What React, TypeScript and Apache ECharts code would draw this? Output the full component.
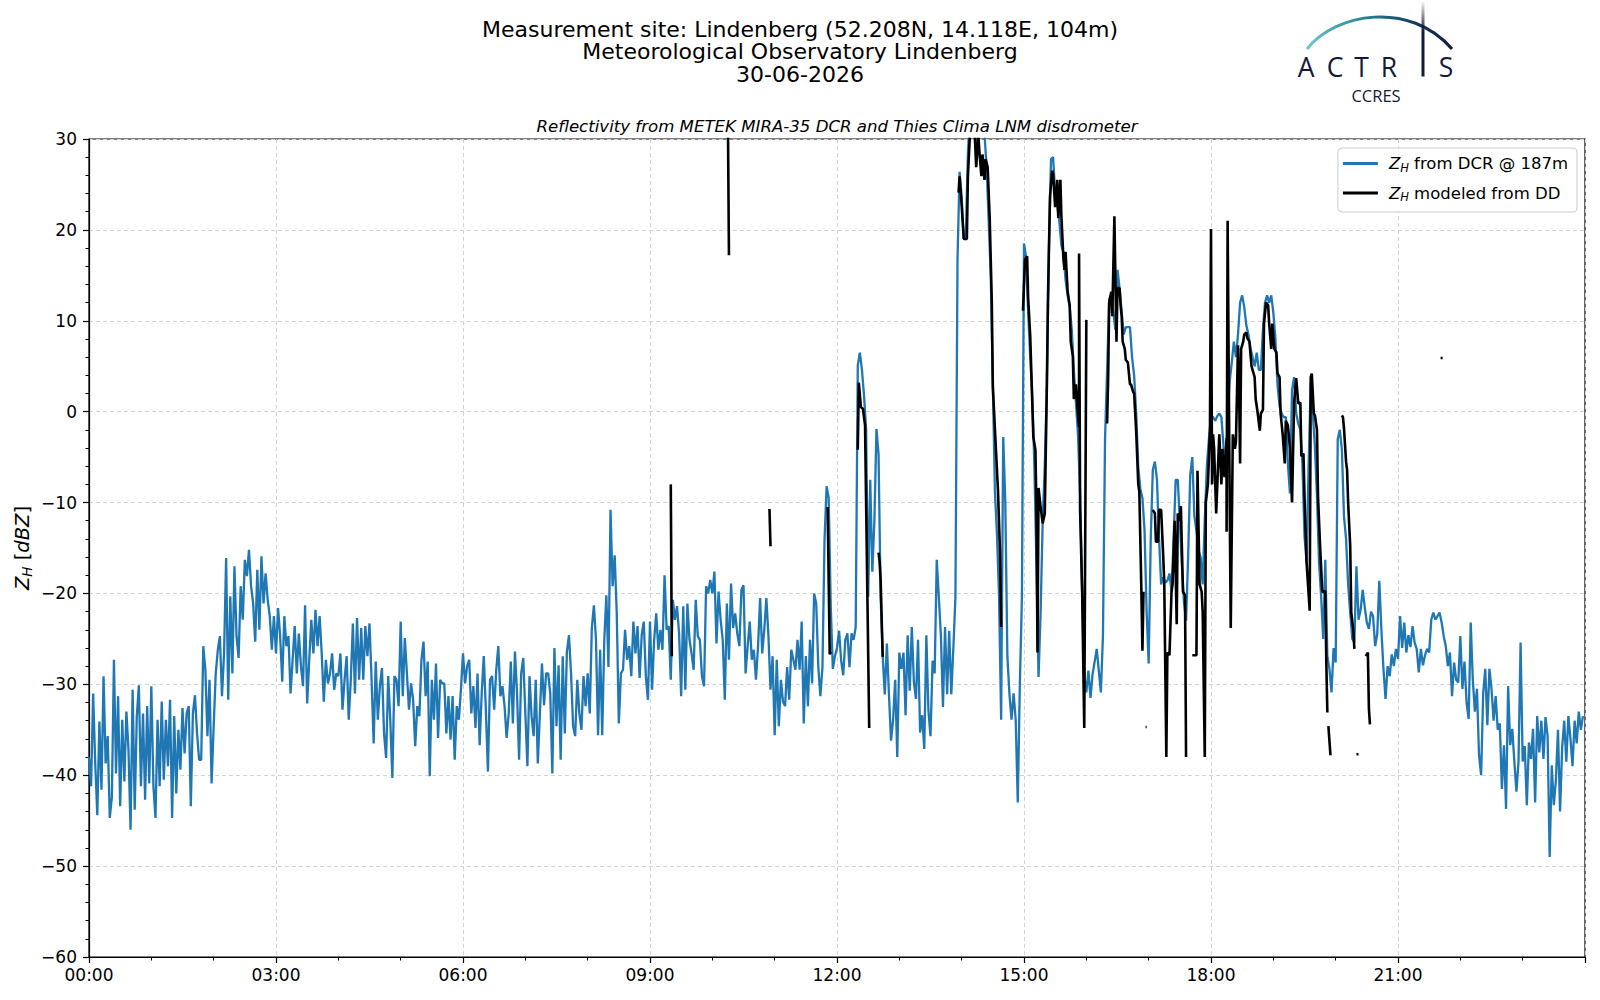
import React, { useEffect, useRef } from "react";
import * as echarts from "echarts";

const FONT = "DejaVu Sans, sans-serif";
const LOGO_FONT = "Open Sans, sans-serif";
const NAVY = "#141a3c";

// ---- Z_H from DCR @ 187m, 2-minute samples, one array per hour ----
const DCR_STEP_MIN = 2;
const DCR_H00 = [-38,-41.2,-31,-38.7,-44.4,-34.1,-41.6,-29.1,-38.7,-35.7,-44.7,-42.4,-27.3,-39.8,-31.3,-43.4,-33.9,-40.7,-33,-37.2,-46,-30.6,-43.8,-33.5,-30.1,-41.2,-33.2,-42.7,-32.4,-40.9];
const DCR_H01 = [-30.2,-41.2,-44.7,-33.9,-41.2,-31.9,-40.5,-33.9,-39,-31.7,-44.7,-33.5,-42,-35,-39.4,-32.6,-37.6,-33.2,-32.4,-43.4,-33.2,-31.2,-35.4,-38.3,-38.3,-25.8,-28.4,-35.7,-29.5,-40.9];
const DCR_H02 = [-34.6,-28.8,-26.2,-24.7,-31.3,-26.6,-16.1,-31.7,-20.3,-28.8,-17,-24.7,-27.1,-19.2,-22.9,-16.3,-18.1,-15.2,-19.2,-21.1,-25.3,-17.4,-24,-15.9,-21.1,-17.8,-20.7,-22.5,-26.2,-22.5];
const DCR_H03 = [-26.6,-21.6,-24.7,-29.7,-22.5,-25.8,-24.7,-31,-27.3,-23.6,-28.8,-24.4,-28,-30.2,-21.3,-32.1,-27.3,-22.9,-26.6,-21.8,-25.8,-22.5,-26.6,-31.9,-27.3,-29.9,-28.8,-26.6,-30.6,-28.8];
const DCR_H04 = [-29.1,-26.6,-32.8,-29.5,-26.9,-33.9,-29.5,-23.3,-31,-22.7,-29.5,-23.8,-29.5,-23.6,-26.9,-23.3,-29.5,-36.5,-27.5,-33.9,-30.2,-28.2,-35.4,-38.1,-29.1,-33.9,-40.3,-29.1,-29.5,-32.4];
const DCR_H05 = [-23.1,-31.3,-24.9,-28.8,-32.8,-29.9,-31.7,-36.8,-32.4,-33.5,-27.3,-25.3,-31.3,-27.5,-40.1,-29.5,-33.9,-27.7,-35.9,-29.5,-29.9,-29.9,-35.4,-31.3,-36.1,-31.3,-38.3,-32.4,-33.9,-30.6];
const DCR_H06 = [-26.6,-29.9,-28,-27.3,-33.2,-30.2,-34.8,-28.8,-36.7,-31,-26.9,-32.8,-39.6,-29.5,-29.1,-32.8,-28.4,-25.8,-31.3,-30.2,-32.4,-35.9,-33.2,-27.5,-34.3,-26.4,-31,-38.3,-28.8,-27.1];
const DCR_H07 = [-33.2,-39,-29.1,-33.5,-35.7,-29.5,-38.7,-33.2,-27.7,-32.3,-28.8,-28.8,-31,-39.8,-26,-34.6,-27.9,-38.3,-26.9,-35.4,-26.4,-24.6,-28.8,-34.6,-35.7,-29.5,-33.2,-35,-29.1,-32.4];
const DCR_H08 = [-28.8,-33.2,-23.8,-21.3,-25.1,-35.6,-26.2,-35.6,-25.1,-20.2,-28.1,-10.8,-19.2,-15.8,-22.2,-34.3,-28.8,-28.4,-24,-27.3,-25.8,-29.1,-23.1,-26.6,-23.6,-29.3,-24.6,-23.1,-29.1,-31.7];
const DCR_H09 = [-23.1,-30.6,-25.1,-22.2,-26.2,-24,-26.2,-18,-24,-23.6,-29.5,-20.7,-22.9,-21.4,-24.4,-31.3,-21.4,-30.6,-21.1,-25.1,-26.6,-28.4,-20.7,-24.7,-25.1,-29.1,-30.2,-19.2,-20,-18.5];
const DCR_H10 = [-20,-17.6,-25.5,-19.8,-22.9,-25.1,-31.7,-21.1,-27.3,-18.9,-23.8,-22.2,-24.4,-25.8,-19.6,-19.1,-28.8,-25.8,-23.1,-27.3,-26.2,-29.5,-25.8,-20.5,-26.6,-24,-20.5,-24.7,-30.6,-26.9];
const DCR_H11 = [-35.6,-27.3,-34.6,-29.5,-31.9,-32.4,-28.1,-31.7,-26.2,-27.3,-28.4,-25.1,-28.4,-23.1,-34.3,-26.9,-32.4,-25.1,-29.9,-20,-21.1,-28.1,-31.3,-28.1,-14.1,-8.2,-9.5,-21.5,-28.3,-26.9];
const DCR_H12 = [-26,-24.1,-27.4,-29,-25.1,-24.4,-28.1,-24.4,-25.1,-23.7,5.1,6.5,4.6,1.8,-1.9,-20.4,-7.5,-17.6,-12,-1.9,-4.7,-20.4,-26.9,-31.1,-25.5,-31.1,-36.2,-33.9,-29.5,-38];
const DCR_H13 = [-26.5,-28.3,-26.5,-33.4,-24.6,-30.7,-23.7,-29.7,-31.6,-25.1,-35.3,-33.4,-37.1,-24.6,-32.9,-35.7,-27.4,-28.8,-16.3,-20.4,-24.6,-32.5,-23.7,-31.1,-24.1,-31.1,-26,-20.4,16.7,26.4];
const DCR_H14 = [23.6,19,19.5,28.3,33,35,34,33,32,33,31,30.5,26.9,21,15,3,-8.8,-13.5,-20.4,-33.9,-2.8,-10,-26.9,-31.1,-33.9,-31,-33.9,-43,-30,-20.4];
const DCR_H15 = [18.5,17,11,6,1.5,-6,-17,-29.2,-22,-12,-6,2.8,18,27.8,28,24,22.5,21,18.3,17.5,14.5,12.8,11.5,9,4.5,1,-2.5,-9,-20,-29];
const DCR_H16 = [-30.9,-28.5,-31.5,-28.9,-27.5,-26.1,-28.5,-30.9,-24.6,-3,4.6,12.4,12.8,10.9,9,15.6,13.6,11,8.5,9.3,9.3,9.3,6,4,-0.2,-6.1,-8.5,-9.5,-13,-21.9];
const DCR_H17 = [-27.7,-14,-6.4,-5.5,-7.5,-14,-19,-18.2,-18.8,-18.6,-17.8,-19.8,-14,-7.5,-7.5,-12,-17,-21,-23,-15.9,-7,-5,-11.5,-13.1,-15.3,-16,-19,-12,-6,-3];
const DCR_H18 = [-0.5,-0.6,-1,-0.5,-0.2,-0.6,-3.7,-7,-1,3.4,5.4,7.7,6,8.5,12,12.8,11.5,9.5,8.5,7,6,5,6.5,4.6,4.6,9,12,12.8,12,12.8];
const DCR_H19 = [10.9,8,3,0.6,-0.2,-0.6,-0.6,-5.7,-9,2.4,3.8,-0.2,-1.3,-2,-5.7,-13.7,-16.6,-5.7,3.1,-0.2,-3.8,-9.3,-16.6,-20.3,-25,-16.3,-26.9,-28.3,-30.9,-26];
const DCR_H20 = [-27.6,-3,-2,-4.2,-11.5,-14,-19,-22.1,-25,-25.4,-17,-22.9,-21.8,-19.6,-21.5,-23.2,-23.9,-22,-22.5,-25.8,-24.5,-18.6,-24,-28.3,-31.6,-28,-29.1,-26.7,-28,-26.1];
const DCR_H21 = [-27.2,-22.5,-26,-23.2,-26.5,-24.6,-25.9,-23.6,-25.4,-26.1,-28.7,-26.1,-27.9,-26.8,-26.1,-26.5,-22.9,-22.1,-22.9,-22.5,-22.1,-23.2,-24.7,-25.8,-28,-26.5,-31.3,-27.6,-29.5,-29.8];
const DCR_H22 = [-24.7,-30.5,-27.5,-32,-33.8,-23.2,-29.5,-33,-30.5,-37.8,-40,-31,-28.3,-34.5,-28.3,-30.5,-34,-31.3,-35,-34.3,-41.5,-36.7,-43.7,-30.2,-36.7,-34.9,-38.5,-41.8,-38.5,-25.4];
const DCR_H23 = [-38.5,-36.8,-43.3,-36.4,-38.2,-34.9,-43,-33.5,-37.5,-34,-38.2,-33.6,-35.7,-49,-38.9,-43.3,-40.5,-35,-44,-37,-34,-38.5,-33.5,-36,-39,-34,-36.5,-33,-35,-33.5];

const DCR_HOURS = [DCR_H00, DCR_H01, DCR_H02, DCR_H03, DCR_H04, DCR_H05, DCR_H06, DCR_H07, DCR_H08, DCR_H09, DCR_H10, DCR_H11, DCR_H12, DCR_H13, DCR_H14, DCR_H15, DCR_H16, DCR_H17, DCR_H18, DCR_H19, DCR_H20, DCR_H21, DCR_H22, DCR_H23];

// ---- Z_H modeled from disdrometer: separate segments of [time, dBZ] ----
const DD_0920 = [["09:20", -8], ["09:21", -26.9]];
const DD_1015 = [["10:15", 32], ["10:16", 17.2]];
const DD_1055 = [["10:55", -10.7], ["10:56", -14.8]];
const DD_1151 = [["11:51", -10.5], ["11:53", -26.7], ["11:54", -26.4]];
const DD_1220 = [["12:20", -4.2], ["12:21", 3.2], ["12:23", 0.5], ["12:25", 0.3], ["12:27", -1.5], ["12:31", -34.8]];
const DD_1240 = [["12:40", -15.5], ["12:41", -16.5], ["12:42", -18.5], ["12:44", -27]];
const DD_1357 = [["13:57", 24.1], ["13:58", 25.9], ["14:00", 22.7], ["14:02", 19], ["14:05", 19], ["14:06", 25.9], ["14:08", 30.6], ["14:10", 32], ["14:12", 32], ["14:14", 26.9], ["14:16", 30.6], ["14:17", 28.7], ["14:19", 25.9], ["14:20", 28.3], ["14:22", 25.5], ["14:23", 27.8], ["14:25", 26.9], ["14:27", 21.3], ["14:29", 12], ["14:30", 2.8], ["14:33", -4.2], ["14:35", -8.8], ["14:37", -15.8], ["14:38", -23.7]];
const DD_1459 = [["14:59", 11.1], ["15:01", 16.7], ["15:03", 17.1], ["15:04", 12.5], ["15:06", 8.3], ["15:07", 4.6], ["15:09", -2.8], ["15:11", -4.2], ["15:12", -11.2], ["15:13", -26.5], ["15:14", -8.4], ["15:16", -10.5], ["15:18", -12.3], ["15:20", -11.2], ["15:22", 2.8], ["15:23", 12], ["15:25", 23.6], ["15:27", 26.5], ["15:28", 26.2], ["15:30", 22.5], ["15:32", 25.5], ["15:33", 21.3], ["15:35", 25.5], ["15:36", 21.5], ["15:38", 16.7], ["15:39", 15.6], ["15:40", 17.6], ["15:42", 13.2], ["15:44", 11.7], ["15:45", 7.7], ["15:47", 6.1], ["15:48", 1.4], ["15:50", 3], ["15:52", -0.5], ["15:53", -1.7], ["15:53", 17.4], ["15:54", -10.8], ["15:56", -19.9], ["15:58", -34.8], ["16:00", 10.1]];
const DD_1620 = [["16:20", -1.3], ["16:21", 3.8], ["16:22", 12], ["16:24", 13.2], ["16:25", 10.5], ["16:27", 21.5], ["16:29", 7.7], ["16:30", 13.6], ["16:32", 13.6], ["16:33", 11.7], ["16:34", 10.5], ["16:35", 7.7], ["16:37", 6.9], ["16:38", 5.7], ["16:40", 5.4], ["16:42", 3], ["16:43", 3], ["16:45", 2.2], ["16:46", 2], ["16:48", -2.2], ["16:50", -8], ["16:51", -8.8], ["16:53", -19.8], ["16:54", -26.3], ["16:55", -19.8]];
const DD_1657 = [["16:57", -34.7], ["16:58", -34.7]];
const DD_1704 = [["17:04", -10.8], ["17:06", -11.2], ["17:07", -14.3], ["17:09", -14.3], ["17:10", -10.8], ["17:12", -10.8], ["17:14", -15.9], ["17:15", -18.7], ["17:17", -38], ["17:18", -26.5], ["17:20", -26.8], ["17:22", -19.8], ["17:23", -19], ["17:25", -12], ["17:27", -23.4], ["17:28", -11.2], ["17:30", -12], ["17:31", -10.4], ["17:33", -19.8], ["17:35", -20.2], ["17:36", -38]];
const DD_1742 = [["17:42", -26.8], ["17:46", -26.8], ["17:47", -6.5], ["17:49", -19], ["17:51", -19.8], ["17:52", -22], ["17:54", -38], ["17:55", -10], ["17:57", -8], ["17:59", -2.1], ["18:00", 20.1], ["18:01", -8], ["18:02", -2.5], ["18:03", -4.1], ["18:05", -11.2], ["18:07", -5.3], ["18:08", -2.5], ["18:10", -8], ["18:11", -4.1], ["18:13", -7.2], ["18:15", -2.9], ["18:15", -13.2], ["18:16", 21], ["18:18", -10], ["18:19", -23.8], ["18:21", -2.5], ["18:23", -4.1], ["18:24", -3.3], ["18:26", 7.3], ["18:27", 2.6], ["18:28", -5.7], ["18:29", 6.9], ["18:31", 7.7], ["18:32", 8.5], ["18:34", 8.7], ["18:35", 8.1], ["18:37", 7.7], ["18:39", 5], ["18:40", 4.6], ["18:42", 3.8], ["18:43", 1.4], ["18:45", -0.2], ["18:47", -2.1], ["18:48", -0.2], ["18:50", 0.2], ["18:51", 9.7], ["18:53", 12], ["18:55", 11.7], ["18:56", 9.7], ["18:58", 6.9], ["18:59", 9.7], ["19:01", 6.9], ["19:03", 6.5], ["19:04", 4.2], ["19:06", 3.8], ["19:07", -0.2], ["19:09", -2.5], ["19:11", -5.7], ["19:12", -1], ["19:14", -1.5], ["19:16", -4], ["19:18", -10], ["19:20", 1], ["19:22", 3.7], ["19:24", 0.9], ["19:26", 1], ["19:27", -4.9], ["19:29", -4.6], ["19:30", -9.3], ["19:32", -16.6], ["19:35", -21.9], ["19:36", 3.8], ["19:37", 4.2], ["19:39", -0.2], ["19:40", -0.4], ["19:42", -2], ["19:43", -9.3], ["19:45", -14.8], ["19:47", -19.6], ["19:48", -19.9], ["19:50", -19.7], ["19:51", -27.6], ["19:52", -33.1]];
const DD_1953 = [["19:53", -34.6], ["19:55", -37.8]];
const DD_2006 = [["20:06", -0.4], ["20:07", -0.6], ["20:08", -1.8], ["20:10", -5.5], ["20:11", -6.4], ["20:12", -10], ["20:14", -14.8], ["20:15", -22.1], ["20:17", -24], ["20:18", -26.1]];
const DD_2020 = [["20:20", -37.7], ["20:22", -37.7]];
const DD_2029 = [["20:29", -26.9], ["20:31", -26.5], ["20:32", -32.7], ["20:33", -34.4]];
const DD_2141 = [["21:41", 5.9], ["21:43", 5.9]];

const DD_SEGMENTS = [DD_0920, DD_1015, DD_1055, DD_1151, DD_1220, DD_1240, DD_1357, DD_1459, DD_1620, DD_1657, DD_1704, DD_1742, DD_1953, DD_2006, DD_2020, DD_2029, DD_2141];

const SERIES_DCR = "dcr";
const SERIES_DD = "dd";
const LEGEND_TEXT: Record<string, string> = {
  dcr: "{i|Z}{s|H}{t| from DCR @ 187m}",
  dd: "{i|Z}{s|H}{t| modeled from DD}",
};

const TITLE_LINES = [
  "Measurement site: Lindenberg (52.208N, 14.118E, 104m)",
  "Meteorological Observatory Lindenberg",
  "30-06-2026",
];
const SUBTITLE = "Reflectivity from METEK MIRA-35 DCR and Thies Clima LNM disdrometer";

const Y_MIN = -60;
const Y_MAX = 30;
const Y_STEP = 10;
const X_MIN = 0;
const X_MAX = 24;
const X_STEP = 3;

function hm(s: string): number {
  const [h, m] = s.split(":").map(Number);
  return h + m / 60;
}

function buildDcr() {
  const out: any[] = [];
  DCR_HOURS.forEach((arr, h) => {
    arr.forEach((v, k) => out.push([h + (k * DCR_STEP_MIN) / 60, v]));
  });
  return out;
}

function buildDd() {
  const out: any[] = [];
  DD_SEGMENTS.forEach((seg: any[], i) => {
    if (i > 0) out.push([hm(seg[0][0]) - 0.002, "-"]);
    seg.forEach((p: any[]) => out.push([hm(p[0]), p[1]]));
  });
  return out;
}

const minus = (v: number) => (v < 0 ? "\u2212" + Math.abs(v) : String(v));

export default function App() {
  const ref = useRef<HTMLDivElement>(null);

  useEffect(() => {
    if (!ref.current) return;
    const chart = echarts.init(ref.current, undefined, { renderer: "svg" });

    const richLegend = {
      i: { fontFamily: FONT, fontSize: 16.5, fontStyle: "italic", color: "#000", lineHeight: 20, padding: [0, 0, 0, 6] },
      s: { fontFamily: FONT, fontSize: 11.5, fontStyle: "italic", color: "#000", lineHeight: 12, verticalAlign: "bottom" },
      t: { fontFamily: FONT, fontSize: 16.5, color: "#000", lineHeight: 20 },
    };

    const richYName = {
      i: { fontFamily: FONT, fontSize: 19.5, fontStyle: "italic", fill: "#000", lineHeight: 24 },
      s: { fontFamily: FONT, fontSize: 13.5, fontStyle: "italic", fill: "#000", lineHeight: 14, verticalAlign: "bottom" },
      t: { fontFamily: FONT, fontSize: 19.5, fill: "#000", lineHeight: 24 },
    };

    const arcGradient = new echarts.graphic.LinearGradient(0, 0, 1, 0, [
      { offset: 0, color: "#6cc9c4" },
      { offset: 0.4, color: "#238292" },
      { offset: 0.75, color: "#1a3a5e" },
      { offset: 1, color: NAVY },
    ]);
    const barGradient = new echarts.graphic.LinearGradient(0, 0, 0, 1, [
      { offset: 0, color: "rgba(20,26,60,0.05)" },
      { offset: 0.4, color: NAVY },
      { offset: 1, color: NAVY },
    ]);

    const letters = [
      { ch: "A", x: 1306 },
      { ch: "C", x: 1335 },
      { ch: "T", x: 1361.5 },
      { ch: "R", x: 1389 },
      { ch: "S", x: 1446 },
    ];

    const option: any = {
      animation: false,
      backgroundColor: "#ffffff",
      grid: {
        left: 89,
        right: 15,
        top: 139,
        bottom: 43,
        show: true,
        borderColor: "#000",
        borderWidth: 1.2,
        backgroundColor: "transparent",
      },
      xAxis: {
        type: "value",
        min: X_MIN,
        max: X_MAX,
        interval: X_STEP,
        axisLine: { show: true, onZero: false, lineStyle: { color: "#000", width: 1.2 } },
        axisTick: { show: true, length: 6, lineStyle: { color: "#000", width: 1.2 } },
        minorTick: { show: true, splitNumber: 3, length: 3.5, lineStyle: { color: "#000", width: 1 } },
        splitLine: { show: true, lineStyle: { color: "#d4d4d4", type: [4, 3], width: 1 } },
        axisLabel: {
          fontFamily: FONT,
          fontSize: 17,
          color: "#000",
          margin: 9,
          formatter: (v: number) => (v >= 24 ? "" : String(v).padStart(2, "0") + ":00"),
        },
      },
      yAxis: {
        type: "value",
        min: Y_MIN,
        max: Y_MAX,
        interval: Y_STEP,
        axisLine: { show: true, onZero: false, lineStyle: { color: "#000", width: 1.2 } },
        axisTick: { show: true, length: 6, lineStyle: { color: "#000", width: 1.2 } },
        minorTick: { show: true, splitNumber: 5, length: 3.5, lineStyle: { color: "#000", width: 1 } },
        splitLine: { show: true, lineStyle: { color: "#d4d4d4", type: [4, 3], width: 1 } },
        axisLabel: { fontFamily: FONT, fontSize: 17, color: "#000", margin: 12, formatter: minus },
      },
      legend: {
        data: [SERIES_DCR, SERIES_DD],
        orient: "vertical",
        right: 23,
        top: 148,
        itemWidth: 35,
        itemHeight: 3,
        icon: "rect",
        itemGap: 11,
        padding: [7, 9, 9, 5],
        borderColor: "#cccccc",
        borderWidth: 1,
        borderRadius: 4,
        backgroundColor: "rgba(255,255,255,0.85)",
        formatter: (name: string) => LEGEND_TEXT[name],
        textStyle: { fontFamily: FONT, fontSize: 16.5, color: "#000", rich: richLegend },
      },
      series: [
        {
          name: SERIES_DCR,
          type: "line",
          data: buildDcr(),
          showSymbol: false,
          symbol: "none",
          lineStyle: { color: "#1f77b4", width: 2.3 },
          itemStyle: { color: "#1f77b4" },
          z: 2,
        },
        {
          name: SERIES_DD,
          type: "line",
          data: buildDd(),
          showSymbol: false,
          symbol: "none",
          connectNulls: false,
          lineStyle: { color: "#000000", width: 2.6 },
          itemStyle: { color: "#000000" },
          z: 3,
        },
      ],
      graphic: [
        ...TITLE_LINES.map((t, i) => ({
          type: "text",
          x: 800,
          y: 29 + i * 22.8,
          style: { text: t, fontFamily: FONT, fontSize: 22, fill: "#000", align: "center", verticalAlign: "middle" },
        })),
        {
          type: "text",
          x: 837,
          y: 126,
          style: { text: SUBTITLE, fontFamily: FONT, fontSize: 16.6, fontStyle: "italic", fill: "#000", align: "center", verticalAlign: "middle" },
        },
        {
          type: "text",
          x: 22,
          y: 548,
          rotation: Math.PI / 2,
          style: {
            text: "{i|Z}{s|H}{t| [}{i|dBZ}{t|]}",
            rich: richYName,
            align: "center",
            verticalAlign: "middle",
          },
        },
        {
          type: "group",
          children: [
            {
              type: "bezierCurve",
              shape: { x1: 1307, y1: 49, cpx1: 1335, cpy1: 13, cpx2: 1410, cpy2: 0, x2: 1452, y2: 49 },
              style: { stroke: arcGradient, lineWidth: 3, fill: null },
            },
            {
              type: "rect",
              shape: { x: 1421.5, y: 2, width: 3, height: 74.5 },
              style: { fill: barGradient },
            },
            ...letters.map((l) => ({
              type: "text",
              x: l.x,
              y: 66.5,
              style: { text: l.ch, fontFamily: LOGO_FONT, fontSize: 26.5, lineHeight: 20, fill: NAVY, align: "center", verticalAlign: "middle" },
            })),
            {
              type: "text",
              x: 1376,
              y: 95,
              style: { text: "CCRES", fontFamily: LOGO_FONT, fontSize: 16.5, lineHeight: 14, fill: NAVY, align: "center", verticalAlign: "middle" },
            },
          ],
        },
      ],
    };

    chart.setOption(option);
    return () => chart.dispose();
  }, []);

  return (
    <div
      ref={ref}
      style={{ position: "fixed", left: 0, top: 0, width: 1600, height: 1000, background: "#fff" }}
    />
  );
}
